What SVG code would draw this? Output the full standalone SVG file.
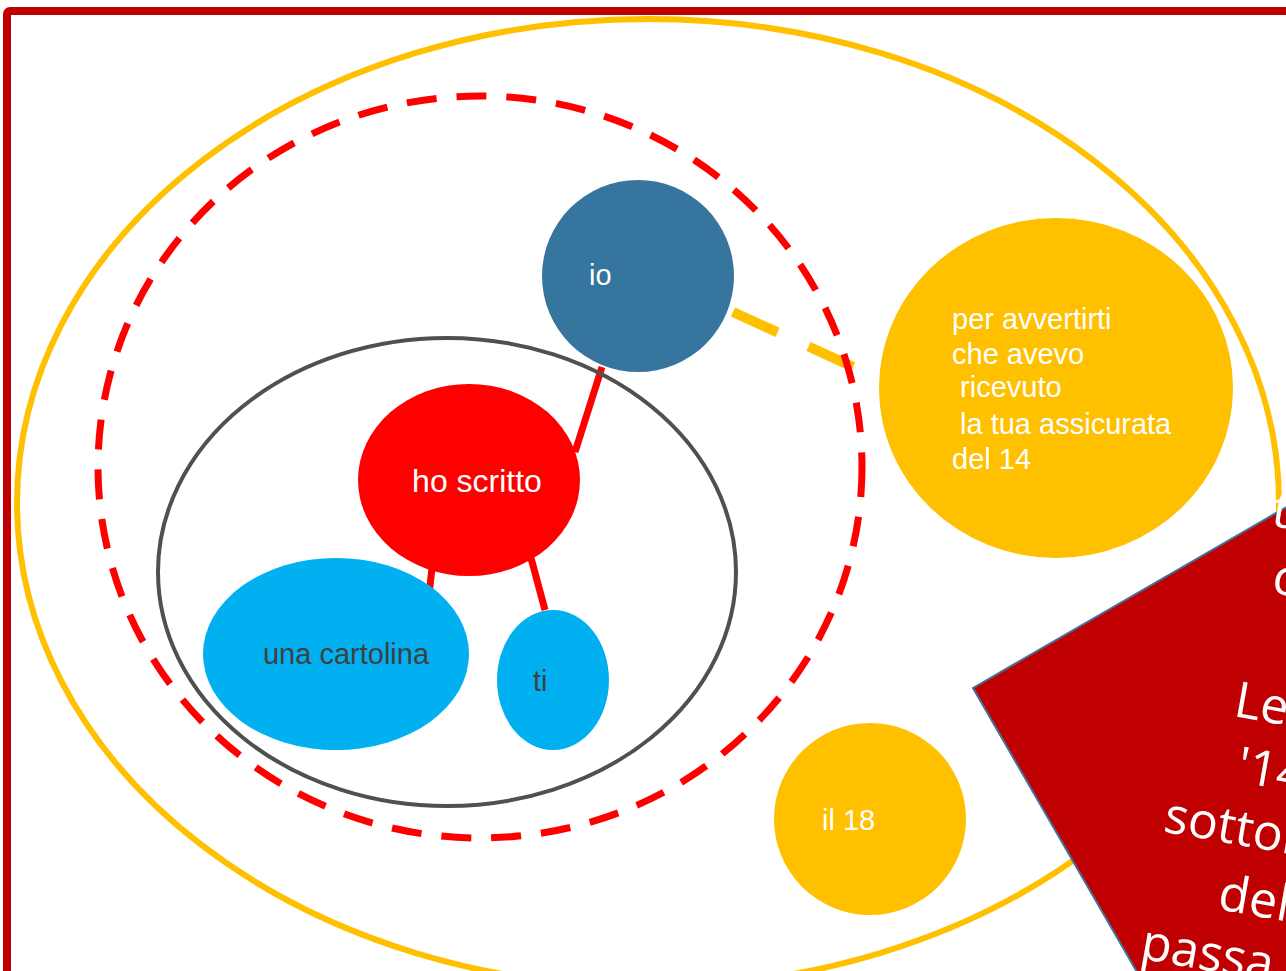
<svg xmlns="http://www.w3.org/2000/svg" width="1286" height="971" viewBox="0 0 1286 971">
<style>
.lbl{font-family:"Liberation Sans",Arial,sans-serif;font-size:29px;fill:#FFFFFF}
.dark{fill:#404040}
.big{font-family:"Open Sans","DejaVu Sans",sans-serif;font-size:50px;fill:#FFFFFF}
.link{stroke:#FF0000;stroke-width:7;fill:none}
</style>
<rect x="0" y="0" width="1286" height="971" fill="#FFFFFF"/>
<rect x="7" y="11" width="1295" height="980" rx="3" fill="none" stroke="#C00000" stroke-width="8"/>
<g id="outer">
<ellipse cx="648" cy="503" rx="631" ry="484" fill="none" stroke="#FFC000" stroke-width="6"/>
</g>
<g id="connectors">
<line x1="733" y1="312" x2="895" y2="386" stroke="#FFC000" stroke-width="10" stroke-dasharray="49 34"/>
<line class="link" x1="602" y1="367" x2="575" y2="452"/>
<line class="link" x1="432" y1="568" x2="429" y2="595"/>
<line class="link" x1="531" y1="558" x2="545" y2="610"/>
</g>
<g id="group-frame">
<ellipse cx="447" cy="572" rx="289" ry="234" fill="none" stroke="#505050" stroke-width="4"/>
</g>
<g id="dashed-frame">
<ellipse cx="480" cy="467" rx="382" ry="371" fill="none" stroke="#FF0000" stroke-width="7" stroke-dasharray="30 20"/>
</g>
<g id="node-io">
<circle cx="638" cy="276" r="96" fill="#35759E"/>
<text class="lbl" x="589" y="285">io</text>
</g>
<g id="node-hoscritto">
<ellipse cx="469" cy="480" rx="111" ry="96" fill="#FF0000"/>
<text class="lbl" x="477" y="492" text-anchor="middle" style="font-size:32px">ho scritto</text>
</g>
<g id="node-cartolina">
<ellipse cx="336" cy="654" rx="133" ry="96" fill="#00B0F0"/>
<text class="lbl dark" x="346" y="664" text-anchor="middle">una cartolina</text>
</g>
<g id="node-ti">
<ellipse cx="553" cy="680" rx="56" ry="70" fill="#00B0F0"/>
<text class="lbl dark" x="533" y="691">ti</text>
</g>
<g id="node-avvertirti">
<ellipse cx="1056" cy="388" rx="177" ry="170" fill="#FFC000"/>
<text class="lbl" x="952" y="329">per avvertirti</text>
<text class="lbl" x="952" y="364">che avevo</text>
<text class="lbl" x="952" y="397" xml:space="preserve"> ricevuto</text>
<text class="lbl" x="952" y="434" xml:space="preserve"> la tua assicurata</text>
<text class="lbl" x="952" y="469">del 14</text>
</g>
<g id="node-il18">
<circle cx="870" cy="819" r="96" fill="#FFC000"/>
<text class="lbl" x="822" y="830">il 18</text>
</g>
<g id="note">
<rect x="973" y="688" width="520" height="520" fill="#C00000" stroke="#41719C" stroke-width="2" transform="rotate(-30 973 688)"/>
<g transform="rotate(10)">
<text class="big" x="1342" y="297">tu</text>
<text class="big" x="1354" y="363">c</text>
<text class="big" x="1338" y="491">Le</text>
<text class="big" x="1352" y="555">'14</text>
<text class="big" x="1289" y="617">sottol</text>
<text class="big" x="1356" y="684">del</text>
<text class="big" x="1288" y="746">passa</text>
</g>
</g>
</svg>
